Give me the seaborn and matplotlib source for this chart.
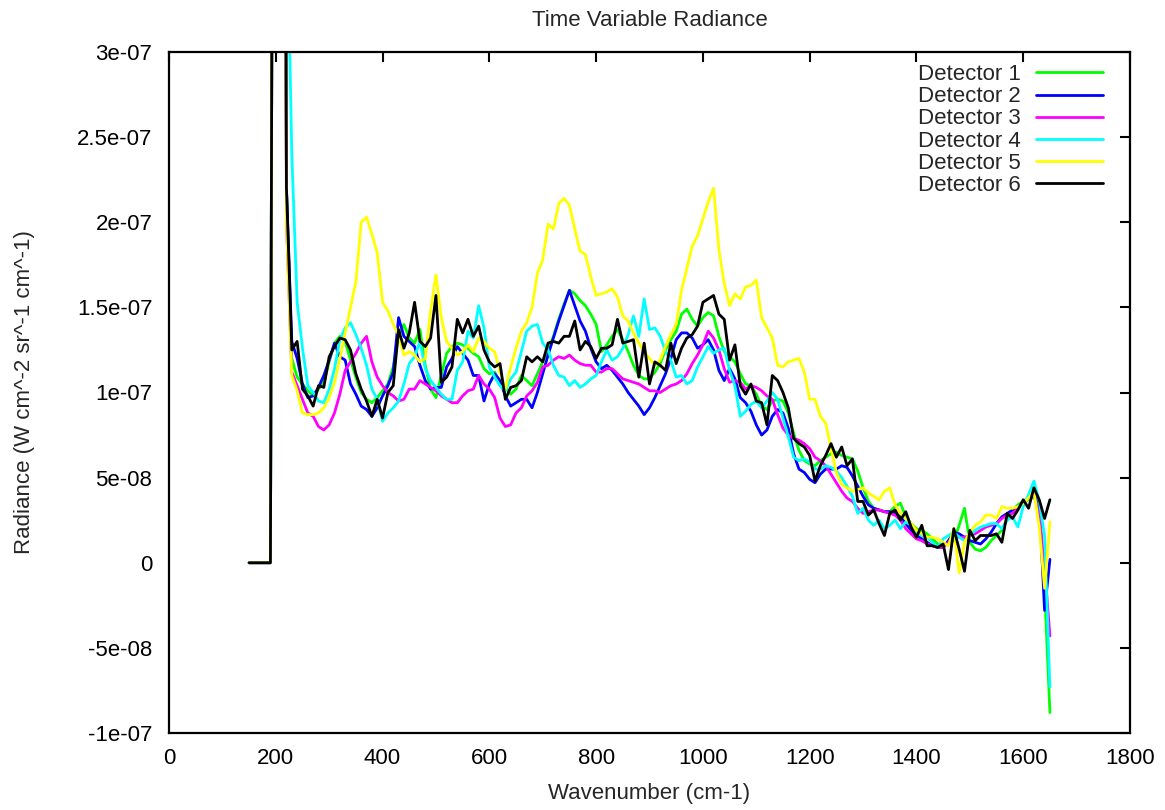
import numpy as np
import pandas as pd
import matplotlib
matplotlib.use("Agg")
import matplotlib.pyplot as plt
import seaborn as sns
from matplotlib.ticker import MultipleLocator, FuncFormatter

# ---------------- data (radiance in units of 1e-8 W cm^-2 sr^-1 cm^-1) ----------------
wavenumber = np.arange(150, 1651, 10)

detector_1 = [0, 0, 0, 0, 0, 120, 120, 22,
    12.0, 10.9, 10.5, 10.1, 9.8, 10.2, 10.6, 11.8, 12.9, 13.3,
    13.0, 11.9, 10.9, 10.0, 9.6, 9.4, 9.7, 10.1, 10.5, 11.5,
    13.3, 14.0, 13.2, 12.9, 13.7, 11.6, 10.2, 9.7, 11.0, 12.3,
    12.7, 12.9, 12.8, 12.6, 12.3, 12.1, 11.4, 11.1, 11.2, 10.6,
    10.3, 9.9, 10.2, 11.0, 10.7, 10.4, 11.1, 11.8, 12.5, 13.3,
    14.3, 15.2, 16.0, 15.8, 15.4, 15.1, 14.6, 14.0, 12.4, 12.8,
    13.3, 13.7, 13.1, 12.4, 11.6, 11.0, 10.8, 10.8, 11.2, 11.7,
    12.5, 13.1, 13.6, 14.6, 14.9, 14.3, 13.9, 14.4, 14.7, 14.5,
    13.3, 12.4, 12.1, 11.8, 11.1, 10.5, 10.4, 9.9, 9.2, 9.0,
    9.5, 9.6, 9.5, 8.8, 7.6, 6.6, 6.0, 5.8, 5.7, 6.0,
    6.2, 6.4, 6.5, 6.3, 6.2, 6.1, 5.4, 4.4, 3.6, 3.2,
    3.1, 3.0, 3.0, 3.3, 3.5, 2.7, 2.3, 2.0, 1.9, 1.7,
    1.4, 1.1, 1.0, 1.2, 1.3, 2.2, 3.2, 1.2, 0.8, 0.7,
    0.9, 1.3, 1.6, 1.9, 2.6, 3.1, 3.4, 3.6, 3.7, 3.9,
    3.1, -1.5, -8.8]

detector_2 = [0, 0, 0, 0, 0, 120, 120, 22,
    13.0, 12.0, 10.5, 9.7, 9.8, 10.3, 11.0, 11.9, 12.9, 12.1,
    11.9, 10.5, 9.9, 9.2, 9.0, 8.6, 9.1, 9.8, 10.4, 11.2,
    14.4, 13.3, 13.0, 12.7, 11.6, 10.7, 10.2, 10.3, 10.3, 11.5,
    12.0, 12.7, 12.3, 11.9, 11.0, 11.0, 9.5, 10.5, 11.1, 10.7,
    9.8, 9.2, 9.4, 9.6, 9.6, 9.1, 10.0, 11.1, 12.2, 13.2,
    14.2, 15.1, 16.0, 15.1, 14.2, 13.6, 12.6, 11.8, 11.4, 11.6,
    11.3, 10.9, 10.5, 10.0, 9.6, 9.2, 8.7, 9.1, 9.7, 10.4,
    11.1, 12.0, 13.1, 13.5, 13.5, 13.2, 12.6, 12.8, 13.1, 12.5,
    11.3, 10.7, 11.4, 10.8, 9.7, 9.4, 8.9, 8.1, 7.5, 7.8,
    8.6, 9.0, 8.8, 7.9, 6.4, 5.5, 5.3, 4.9, 4.7, 5.2,
    5.5, 5.5, 5.5, 5.7, 5.6, 5.1, 4.5, 3.9, 3.4, 3.2,
    3.1, 3.0, 3.0, 2.9, 2.7, 2.3, 1.9, 1.6, 1.4, 1.2,
    1.0, 0.9, 0.9, 1.3, 1.8, 1.7, 1.5, 1.3, 1.2, 1.1,
    1.4, 1.8, 2.3, 2.7, 2.9, 3.1, 3.3, 3.5, 3.8, 4.1,
    3.5, -2.8, 0.2]

detector_3 = [0, 0, 0, 0, 0, 120, 120, 20,
    11.2, 10.4, 9.6, 8.8, 8.6, 8.0, 7.8, 8.1, 8.8, 9.9,
    11.3, 11.8, 12.3, 12.9, 13.3, 11.8, 10.9, 10.4, 10.0, 9.8,
    9.5, 9.6, 10.2, 10.2, 10.7, 10.5, 10.3, 10.1, 9.8, 9.6,
    9.4, 9.4, 9.8, 10.1, 10.2, 11.0, 10.5, 10.2, 9.7, 8.5,
    8.0, 8.1, 8.8, 9.1, 9.8, 10.1, 10.6, 11.5, 11.6, 11.9,
    12.1, 12.0, 12.2, 11.9, 11.7, 11.6, 11.6, 11.2, 11.2, 11.4,
    11.4, 11.1, 10.8, 10.7, 10.6, 10.5, 10.3, 10.1, 10.1, 10.0,
    10.2, 10.4, 10.5, 10.7, 11.1, 11.7, 12.2, 12.8, 13.6, 13.2,
    12.5, 11.4, 10.6, 10.7, 10.6, 10.2, 10.4, 10.3, 10.1, 9.8,
    9.6, 8.7, 7.9, 7.5, 7.3, 7.2, 7.0, 6.7, 6.2, 6.0,
    5.7, 5.2, 4.7, 4.2, 3.8, 3.6, 3.2, 2.9, 3.0, 3.1,
    3.1, 3.0, 2.9, 2.8, 2.5, 2.0, 1.7, 1.4, 1.3, 1.1,
    1.0, 0.9, 0.9, 1.2, 1.6, 1.5, 1.5, 1.6, 1.7, 1.9,
    2.1, 2.2, 2.3, 2.6, 2.8, 2.9, 3.2, 3.6, 3.8, 4.0,
    2.8, -0.2, -4.3]

detector_4 = [0, 0, 0, 0, 0, 120, 120, 40,
    24.0, 15.3, 12.6, 10.4, 10.0, 9.5, 9.4, 10.2, 11.4, 13.1,
    13.8, 14.1, 13.4, 12.6, 11.6, 10.2, 9.6, 8.3, 8.8, 9.1,
    9.5, 10.5, 11.7, 12.1, 13.0, 11.4, 10.7, 10.3, 9.9, 9.6,
    9.6, 11.3, 11.8, 13.6, 13.2, 15.1, 13.8, 11.5, 10.9, 10.4,
    10.1, 10.8, 11.2, 12.4, 13.6, 13.9, 14.0, 12.9, 12.5, 11.6,
    11.0, 10.9, 10.4, 10.7, 10.3, 10.5, 10.8, 11.0, 11.8, 12.5,
    11.9, 12.1, 12.6, 13.4, 14.5, 13.3, 15.5, 13.7, 13.8, 13.3,
    12.4, 11.9, 10.9, 11.0, 10.5, 10.7, 11.5, 12.1, 12.7, 12.3,
    12.5, 12.6, 11.3, 10.4, 8.6, 8.9, 9.3, 9.5, 9.1, 9.5,
    10.0, 9.6, 8.5, 7.4, 6.2, 6.0, 6.1, 5.9, 5.5, 5.5,
    5.7, 5.6, 5.4, 5.0, 4.5, 3.9, 2.9, 3.2, 2.5, 2.2,
    2.5, 2.0, 2.2, 2.5, 2.0, 2.4, 2.2, 1.8, 1.6, 1.5,
    1.2, 0.9, 1.4, 1.6, 1.8, 1.5, 1.3, 1.6, 1.9, 2.1,
    2.2, 2.3, 2.3, 2.0, 2.5, 2.7, 2.1, 3.3, 4.0, 4.8,
    3.6, 1.6, -7.3]

detector_5 = [0, 0, 0, 0, 0, 120, 120, 20,
    11.0, 10.1, 8.8, 8.7, 8.7, 8.8, 9.1, 9.7, 10.6, 12.0,
    13.5, 15.0, 16.5, 20.0, 20.3, 19.3, 18.2, 15.3, 14.8, 14.0,
    13.4, 12.2, 12.4, 12.2, 11.8, 12.0, 14.8, 16.9, 14.4, 13.0,
    12.6, 12.2, 12.4, 12.8, 12.4, 13.2, 13.0, 12.6, 12.4, 11.2,
    10.2, 11.5, 12.6, 13.6, 14.1, 15.0, 17.0, 17.8, 19.9, 19.6,
    21.1, 21.4, 21.0, 19.6, 18.3, 18.1, 16.8, 15.7, 15.8, 15.9,
    16.1, 15.6, 14.5, 14.2, 13.5, 12.9, 12.4, 12.0, 11.6, 11.9,
    12.7, 13.4, 14.0, 16.0, 17.3, 18.6, 19.2, 20.2, 21.2, 22.0,
    18.4, 16.4, 15.1, 15.8, 15.5, 16.2, 16.3, 16.6, 14.4, 13.8,
    13.2, 11.6, 11.5, 11.8, 11.9, 12.0, 11.2, 9.6, 9.6, 8.6,
    8.2, 6.7, 5.3, 4.6, 4.4, 4.2, 4.3, 4.4, 4.1, 3.9,
    3.7, 4.2, 4.4, 3.4, 2.9, 2.6, 2.3, 1.9, 1.7, 1.5,
    1.5, 1.4, 1.2, 1.0, 2.0, -0.6, 1.2, 1.8, 2.2, 2.4,
    2.8, 2.8, 2.6, 3.3, 3.2, 3.2, 3.3, 3.5, 3.8, 4.2,
    2.1, -1.5, 2.4]

detector_6 = [0, 0, 0, 0, 0, 120, 120, 22,
    12.5, 13.0, 10.2, 9.8, 9.2, 10.4, 10.3, 12.1, 12.7, 13.2,
    13.1, 12.5, 11.1, 10.2, 9.5, 8.6, 9.6, 8.5, 10.0, 10.4,
    13.7, 12.6, 13.5, 15.3, 13.0, 12.7, 13.2, 15.7, 10.6, 10.9,
    11.5, 14.3, 13.5, 14.3, 13.3, 13.9, 12.5, 11.8, 11.5, 11.7,
    9.6, 10.3, 10.4, 10.7, 12.1, 11.8, 12.1, 11.8, 12.9, 13.0,
    12.9, 13.3, 13.3, 14.2, 12.5, 13.0, 12.7, 12.0, 12.6, 12.6,
    12.8, 14.3, 12.9, 13.0, 13.1, 10.9, 12.9, 10.5, 11.8, 11.6,
    11.3, 12.9, 11.7, 12.6, 13.2, 13.4, 13.9, 15.3, 15.5, 15.7,
    14.6, 14.3, 11.9, 12.8, 10.4, 9.9, 10.5, 9.5, 9.4, 8.1,
    11.0, 10.7, 10.0, 9.1, 7.3, 7.0, 6.8, 6.3, 4.8, 5.7,
    6.3, 7.0, 6.2, 6.8, 5.7, 6.1, 3.6, 3.6, 2.8, 3.1,
    2.3, 1.6, 2.9, 3.1, 2.5, 3.0, 2.1, 1.5, 2.2, 1.0,
    1.0, 0.9, 1.1, -0.4, 2.0, 0.8, -0.5, 1.9, 1.3, 1.6,
    1.6, 1.6, 1.7, 1.2, 2.9, 2.6, 3.1, 3.7, 3.2, 4.4,
    3.7, 2.6, 3.7]

detector_names = ["Detector 1", "Detector 2", "Detector 3",
                  "Detector 4", "Detector 5", "Detector 6"]
detector_colors = ["#00ff00", "#0000ff", "#ff00ff", "#00ffff", "#ffff00", "#000000"]
x_ticks = [0, 200, 400, 600, 800, 1000, 1200, 1400, 1600, 1800]

series = [detector_1, detector_2, detector_3, detector_4, detector_5, detector_6]
frames = []
for name, vals in zip(detector_names, series):
    assert len(vals) == len(wavenumber), (name, len(vals))
    frames.append(pd.DataFrame({"wavenumber": wavenumber,
                                "radiance": np.array(vals) * 1e-8,
                                "detector": name}))
df = pd.concat(frames, ignore_index=True)

# ---------------- style ----------------
sns.set_style("white")
plt.rcParams["font.family"] = ["Liberation Sans", "DejaVu Sans"]
plt.rcParams["font.size"] = 16

fig = plt.figure(figsize=(11.65, 8.10), dpi=100)
ax = fig.add_axes([169 / 1165, 1 - 733 / 810, (1130 - 169) / 1165, (733 - 52) / 810])

sns.lineplot(data=df, x="wavenumber", y="radiance", hue="detector",
             hue_order=detector_names, palette=dict(zip(detector_names, detector_colors)),
             linewidth=2.0, estimator=None, errorbar=None, legend=False, ax=ax)

ax.set_xlim(0, 1800)
ax.set_ylim(-1e-7, 3e-7)
ax.set_xticks(x_ticks)
ax.yaxis.set_major_locator(MultipleLocator(5e-8))
ax.yaxis.set_major_formatter(FuncFormatter(lambda v, p: "%g" % (round(v * 1e10) / 1e10)))

for s in ax.spines.values():
    s.set_linewidth(1.6)
    s.set_color("black")
ax.tick_params(axis="both", which="major", direction="in", length=7, width=1.5,
               top=True, right=True, labelsize=16, colors="black")
ax.tick_params(axis="x", pad=11)
ax.tick_params(axis="y", pad=12)

ax.set_xlabel("Wavenumber (cm-1)", fontsize=16, labelpad=10)
ax.set_ylabel("Radiance (W cm^-2 sr^-1 cm^-1)", fontsize=16, labelpad=30)
ax.set_title("Time Variable Radiance", fontsize=16, pad=19)

handles = ax.get_lines()[:len(detector_names)]
leg = ax.legend(handles, detector_names, loc="upper right",
                bbox_to_anchor=(0.972, 0.982), frameon=False, markerfirst=False,
                handlelength=3.0, handletextpad=0.7, labelspacing=0.05,
                borderpad=0, borderaxespad=0, fontsize=16)

fig.savefig("out.png", dpi=100)
